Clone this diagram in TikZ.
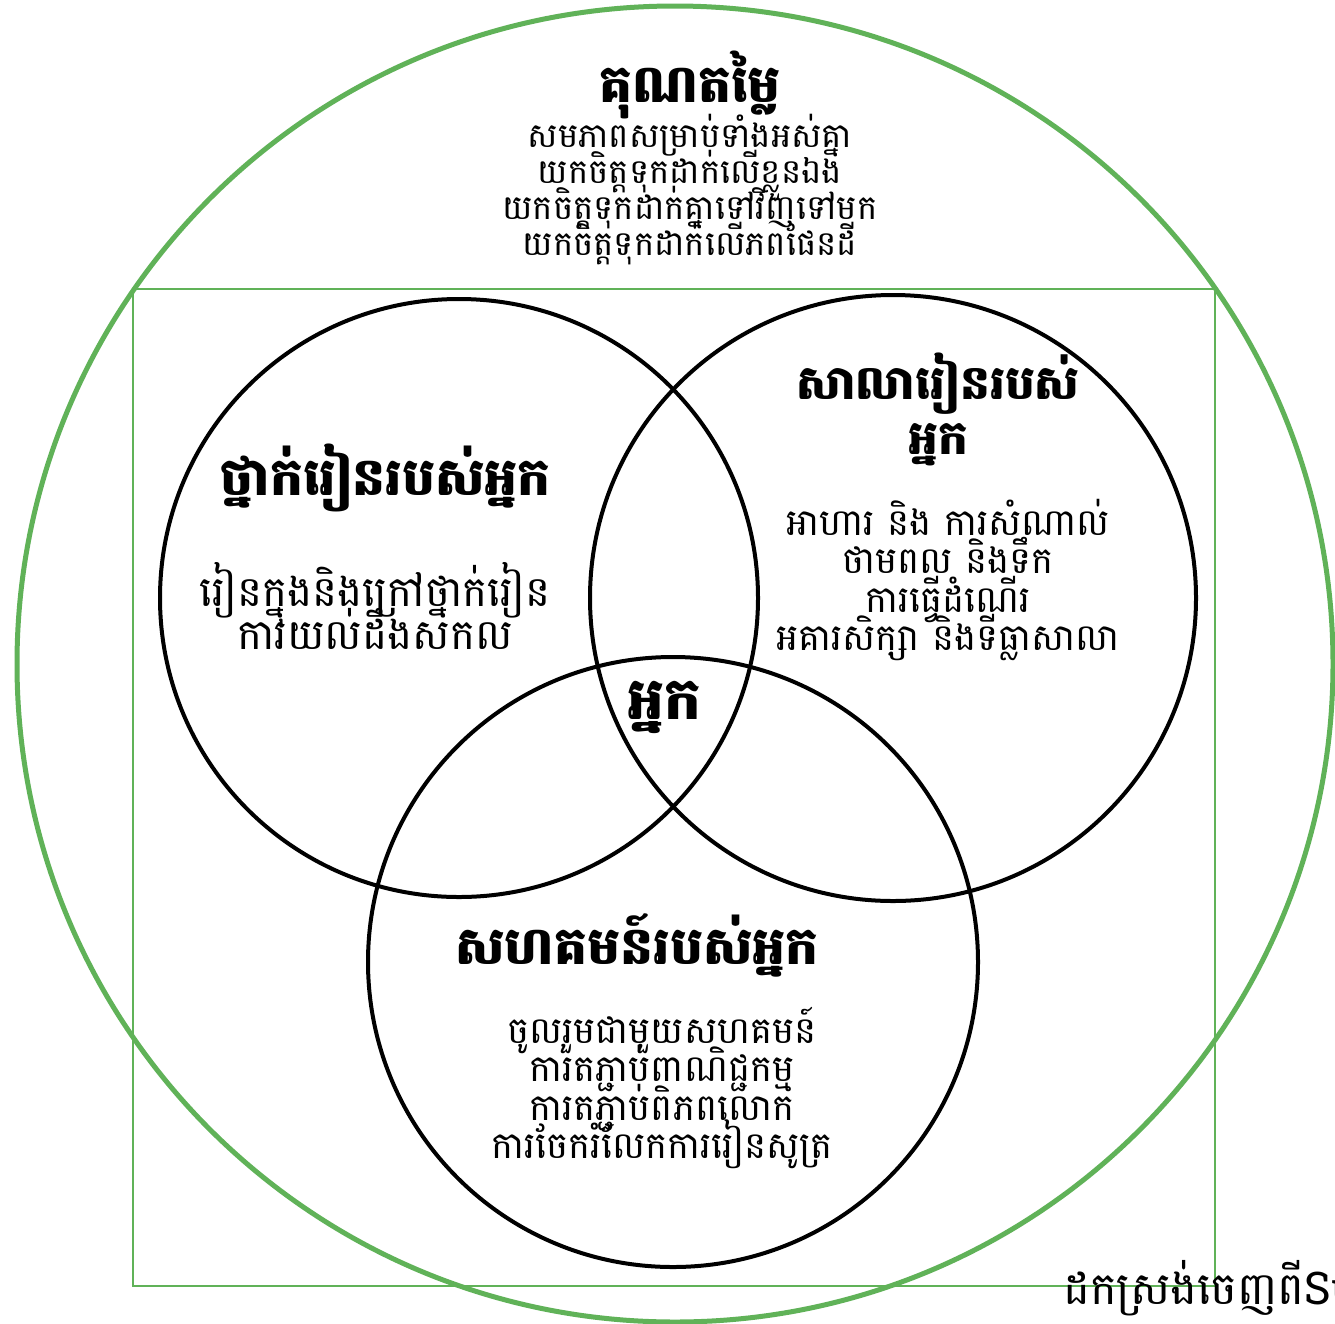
\documentclass[tikz,border=0pt]{standalone}
\usepackage{fontspec}
\newfontfamily\khmer[Script=Khmer]{Battambang}
\definecolor{vgreen}{RGB}{96,178,88}
\newcommand{\kfont}[3][]{\khmer#1\fontsize{#2}{#3}\selectfont\lineskiplimit=-500pt\lineskip=0pt}
\tikzset{
  bigring/.style={draw=vgreen,line width=5pt},
  frame/.style={draw=vgreen,line width=1.3pt},
  ring/.style={draw=black,line width=4pt},
  head/.style={font={\kfont[\bfseries]{52}{55}},align=center,inner sep=0pt},
  body/.style={font={\kfont{37}{38.5}},align=center,inner sep=0pt},
}
\begin{document}
\begin{tikzpicture}[x=1pt,y=-1pt]
\useasboundingbox (0,0) rectangle (1335,1323);
\fill[white] (0,0) rectangle (1335,1323);
\draw[frame] (133,289) rectangle (1215,1286);
\draw[bigring] (675,664) circle (658);
\draw[ring] (459,598) circle (299);
\draw[ring] (893,598) circle (303);
\draw[ring] (673,962) circle (305);
\node[head] (t0) at (690,85) {គុណតម្លៃ};
\node[body,font={\kfont{34}{36}}] (b0) at (690,190) {សមភាពសម្រាប់ទាំងអស់គ្នា\\យកចិត្តទុកដាក់លើខ្លួនឯង\\យកចិត្តទុកដាក់គ្នាទៅវិញទៅមក\\យកចិត្តទុកដាក់លើភពផែនដី};
\node[head] (t1) at (386,478) {ថ្នាក់រៀនរបស់អ្នក};
\node[body,font={\kfont{42}{43}}] (b1) at (375,606) {រៀនក្នុងនិងក្រៅថ្នាក់រៀន\\ការយល់ដឹងសកល};
\node[head,font={\kfont[\bfseries]{47}{55}}] (t2) at (938,409) {សាលារៀនរបស់\\អ្នក};
\node[body] (b2) at (948,580) {អាហារ និង ការសំណាល់\\ថាមពល និងទឹក\\ការធ្វើដំណើរ\\អគារសិក្សា និងទីធ្លាសាលា};
\node[head] (t3) at (637,945) {សហគមន៍របស់អ្នក};
\node[body] (b3) at (662,1088) {ចូលរួមជាមួយសហគមន៍\\ការតភ្ជាប់ពាណិជ្ជកម្ម\\ការតភ្ជាប់ពិភពលោក\\ការចែករំលែកការរៀនសូត្រ};
\node[head,font={\kfont[\bfseries]{58}{60}}] (c) at (664,707) {អ្នក};
\node[body,anchor=west,font={\kfont{45}{46}}] (cr) at (1063,1288) {ដកស្រង់ចេញពីSu};
\end{tikzpicture}
\end{document}
